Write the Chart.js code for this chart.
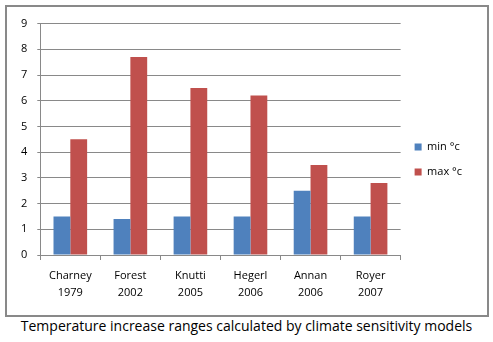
<!DOCTYPE html>
<html>
<head>
<meta charset="utf-8">
<script src="https://cdn.jsdelivr.net/npm/chart.js@4"></script>
<style>
  body { margin: 0; background: #fff; font-family: "Open Sans", sans-serif; }
  #box { position: absolute; left: 5px; top: 5px; width: 480px; height: 308px; border: 2px solid #898989; }
  #caption { position: absolute; left: 0; top: 316px; width: 493px; text-align: center; font-size: 14px; color: #000; }
</style>
</head>
<body>
<div id="box"><canvas id="sensitivityChart" width="480" height="308"></canvas></div>
<div id="caption">Temperature increase ranges calculated by climate sensitivity models</div>
<script>
// Data: kisaran kenaikan suhu per model
const models = [['Charney', '1979'], ['Forest', '2002'], ['Knutti', '2005'], ['Hegerl', '2006'], ['Annan', '2006'], ['Royer', '2007']];
const minTemp = [1.5, 1.4, 1.5, 1.5, 2.5, 1.5];
const maxTemp = [4.5, 7.7, 6.5, 6.2, 3.5, 2.8];
const yTicks = [0, 1, 2, 3, 4, 5, 6, 7, 8, 9];

const ctx = document.getElementById('sensitivityChart').getContext('2d');
new Chart(ctx, {
    type: 'bar',
    data: {
        labels: models,
        datasets: [{
            label: 'min °c',
            data: minTemp,
            backgroundColor: '#4F81BD'
        }, {
            label: 'max °c',
            data: maxTemp,
            backgroundColor: '#C0504D'
        }]
    },
    options: {
        responsive: false,
        animation: false,
        layout: { padding: { top: 3, left: 4, right: 15, bottom: 6 } },
        plugins: {
            legend: {
                position: 'right',
                labels: { boxWidth: 7, boxHeight: 7, padding: 14, color: '#000', font: { family: 'Open Sans', size: 11 } }
            },
            tooltip: { enabled: false }
        },
        datasets: { bar: { categoryPercentage: 0.56, barPercentage: 1 } },
        scales: {
            x: {
                grid: { offset: true, drawOnChartArea: false, color: '#898989', tickLength: 5 },
                border: { color: '#898989' },
                ticks: { color: '#000', font: { family: 'Open Sans', size: 11, lineHeight: 1.5 }, padding: 8 }
            },
            y: {
                min: yTicks[0],
                max: yTicks[yTicks.length - 1],
                afterBuildTicks: axis => { axis.ticks = yTicks.map(v => ({ value: v })); },
                ticks: { color: '#000', font: { family: 'Open Sans', size: 11 }, padding: 10 },
                grid: { color: '#898989', tickLength: 3 },
                border: { color: '#898989' }
            }
        }
    }
});
</script>
</body>
</html>
